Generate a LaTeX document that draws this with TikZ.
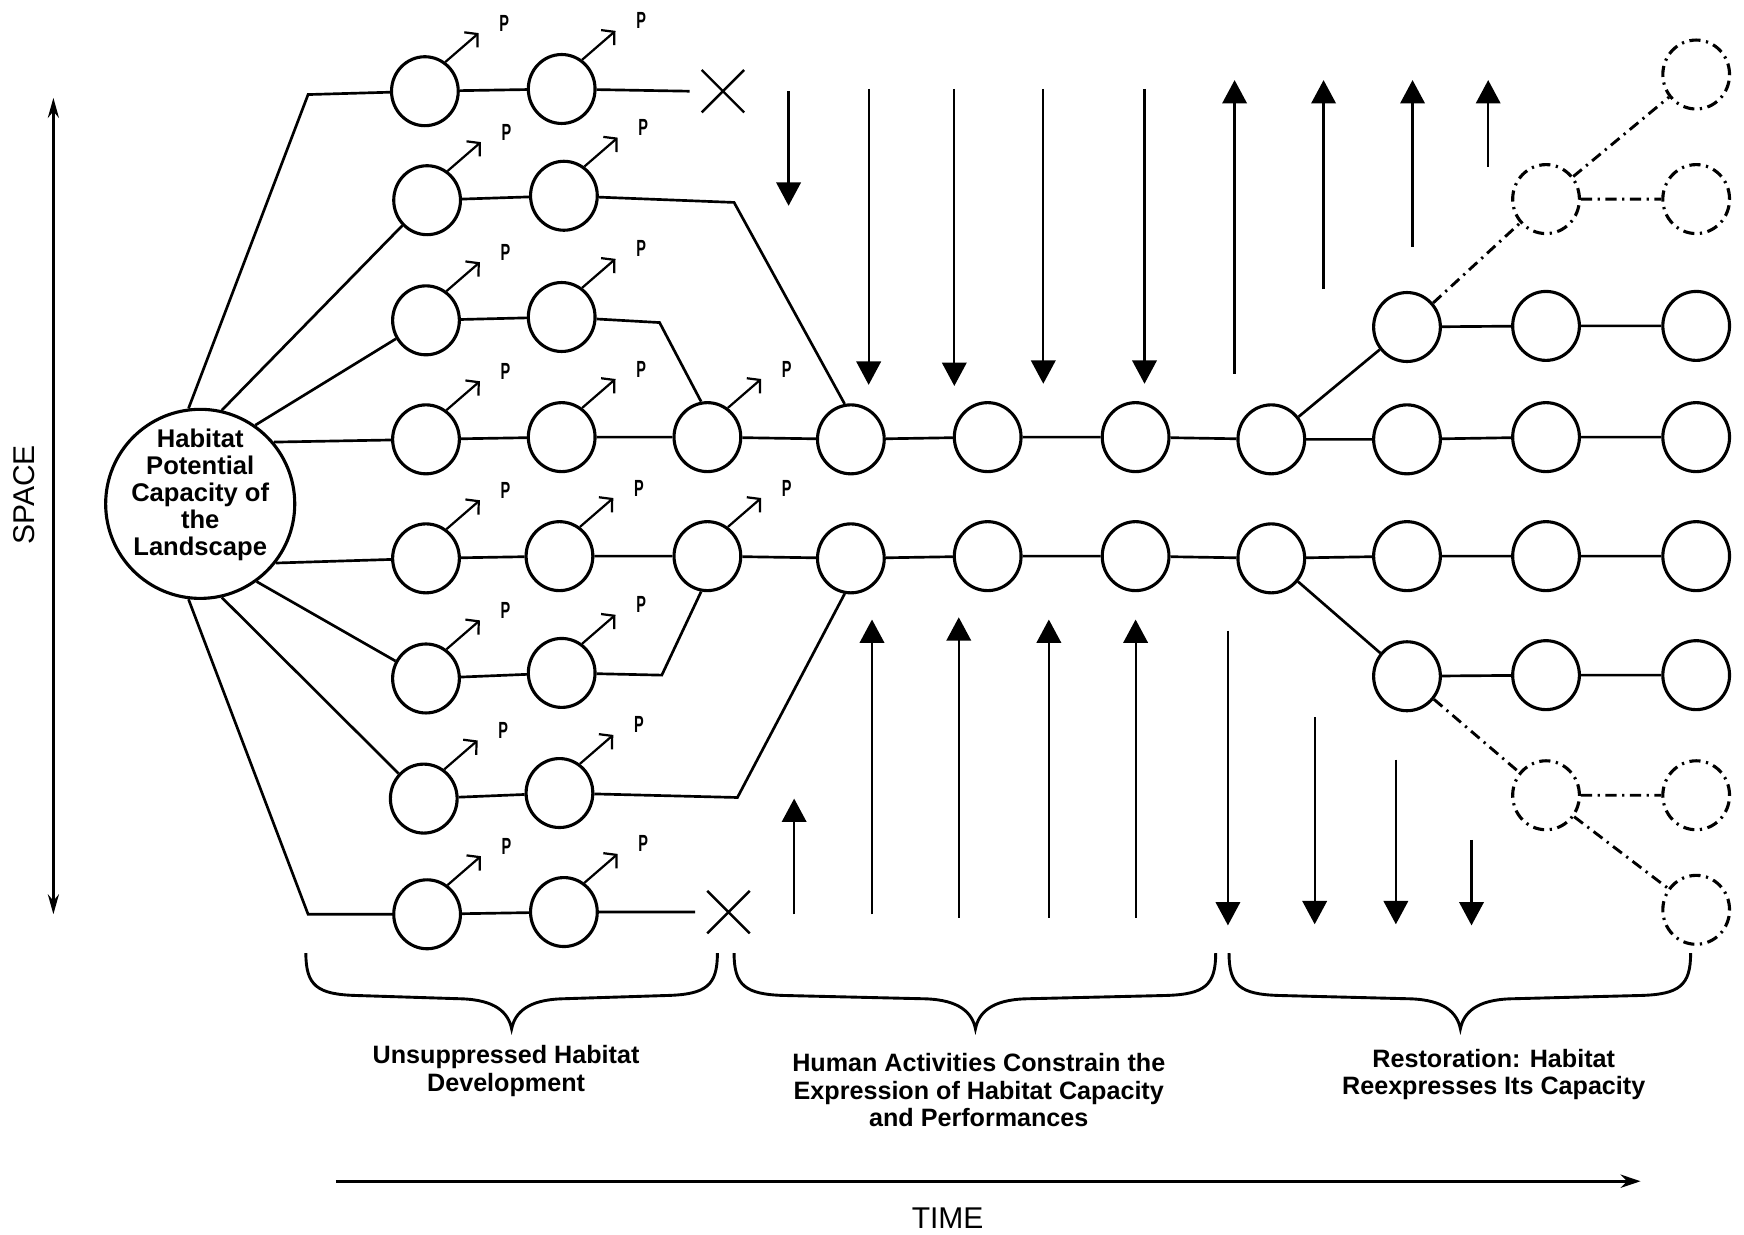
\documentclass[tikz,border=0pt]{standalone}
\usepackage{fontspec}
\setmainfont{Liberation Sans}
\usetikzlibrary{arrows.meta,shapes.geometric,shapes.misc}
\begin{document}
\begin{tikzpicture}[x=0.5pt,y=-0.5pt,
  sc/.style={ellipse,draw,line width=1.4pt,minimum width=30pt,minimum height=31pt,inner sep=0pt},
  dsc/.style={sc,dash pattern=on 5pt off 2.5pt on 1pt off 2.5pt},
  ln/.style={line width=1.2pt},
  dln/.style={line width=1.3pt,dash pattern=on 5pt off 2.5pt on 1pt off 2.5pt},
  varr/.style={line width=1pt,-{Triangle[length=10.5pt,width=11pt]}},
  parr/.style={line width=1pt,-{Straight Barb[length=4pt,width=9pt]}},
  plab/.style={font=\bfseries\fontsize{10.5}{10.5}\selectfont,xshift=11.5pt,yshift=4.5pt,inner sep=0pt},
  captxt/.style={font=\bfseries\fontsize{11.3}{12.5}\selectfont,align=center},
  xmark/.style={draw,cross out,minimum size=18pt,inner sep=0pt,line width=1.1pt},
  bracestyle/.style={line width=1.3pt},
]
\useasboundingbox (0,0) rectangle (1568,1110);

% big circle
\node[circle,draw,line width=1.4pt,minimum size=85pt,inner sep=0pt] (B) at (180,453) {};
\node[font=\bfseries\fontsize{11.5}{12.1}\selectfont,align=center] (Btext) at (180,445)
  {Habitat\\Potential\\Capacity of\\the\\Landscape};

% small circles
\node[sc] (c11) at (382,82) {};  \node[sc] (c12) at (505,80) {};
\node[sc] (c21) at (384,180) {}; \node[sc] (c22) at (507,176) {};
\node[sc] (c31) at (383,288) {}; \node[sc] (c32) at (505,285) {};
\node[sc] (c41) at (383,395) {}; \node[sc] (c42) at (505,393) {};
\node[sc] (c43) at (636,393) {}; \node[sc] (c44) at (765,395) {};
\node[sc] (c45) at (888,393) {}; \node[sc] (c46) at (1021,393) {};
\node[sc] (c47) at (1143,395) {}; \node[sc] (c48) at (1265,395) {};
\node[sc] (c49) at (1390,393) {}; \node[sc] (c410) at (1525,393) {};
\node[sc] (u1) at (1265,294) {}; \node[sc] (u2) at (1390,293) {}; \node[sc] (u3) at (1525,293) {};
\node[sc] (c51) at (383,502) {}; \node[sc] (c52) at (503,500) {};
\node[sc] (c53) at (636,500) {}; \node[sc] (c54) at (765,502) {};
\node[sc] (c55) at (888,500) {}; \node[sc] (c56) at (1021,500) {};
\node[sc] (c57) at (1143,502) {}; \node[sc] (c58) at (1265,500) {};
\node[sc] (c59) at (1390,500) {}; \node[sc] (c510) at (1525,500) {};
\node[sc] (l1) at (1265,608) {}; \node[sc] (l2) at (1390,607) {}; \node[sc] (l3) at (1525,607) {};
\node[sc] (c61) at (383,610) {}; \node[sc] (c62) at (505,605) {};
\node[sc] (c71) at (381,718) {}; \node[sc] (c72) at (503,713) {};
\node[sc] (c81) at (384,822) {}; \node[sc] (c82) at (507,820) {};

% dashed circles
\node[dsc] (d1) at (1525,67) {};
\node[dsc] (d2) at (1390,179) {};
\node[dsc] (d3) at (1525,179) {};
\node[dsc] (d4) at (1390,715) {};
\node[dsc] (d5) at (1525,715) {};
\node[dsc] (d6) at (1525,818) {};

% X marks
\node[xmark] (x1) at (650,82) {};
\node[xmark] (x8) at (655,820) {};

% bend coordinates
\coordinate (k1) at (277,85);
\coordinate (e1) at (620,82);
\coordinate (k2) at (660,182);
\coordinate (k3) at (593,290);
\coordinate (k6) at (595,607);
\coordinate (k7) at (663,717);
\coordinate (k8) at (277,822);
\coordinate (e8) at (625,820);

% connections
\draw[ln] (B.97) -- (k1) -- (c11) -- (c12) -- (e1);
\draw[ln] (B.77) -- (c21) -- (c22) -- (k2) -- (c44.100);
\draw[ln] (B.55) -- (c31) -- (c32) -- (k3) -- (c43.100);
\draw[ln] (B.40) -- (c41) -- (c42) -- (c43) -- (c44) -- (c45) -- (c46) -- (c47) -- (c48) -- (c49) -- (c410);
\draw[ln] (B.-38) -- (c51) -- (c52) -- (c53) -- (c54) -- (c55) -- (c56) -- (c57) -- (c58) -- (c59) -- (c510);
\draw[ln] (B.-54) -- (c61) -- (c62) -- (k6) -- (c53.-100);
\draw[ln] (B.-77) -- (c71) -- (c72) -- (k7) -- (c54.-100);
\draw[ln] (B.-97) -- (k8) -- (c81) -- (c82) -- (e8);
\draw[ln] (c47) -- (u1) -- (u2) -- (u3);
\draw[ln] (c57) -- (l1) -- (l2) -- (l3);
\draw[dln] (u1) -- (d2) -- (d3);
\draw[dln] (d2) -- (d1);
\draw[dln] (l1) -- (d4) -- (d5);
\draw[dln] (d4) -- (d6);

% P arrows
\foreach \n in {c11,c12,c21,c22,c31,c32,c41,c42,c43,c51,c52,c53,c61,c62,c71,c72,c81,c82}
  \draw[parr] (\n.55) -- ++(30,-26) node[plab] {\scalebox{0.62}[1]{P}};

% vertical arrows, top, pointing down
\draw[varr] (709,82) -- (709,185);
\draw[varr] (781,80) -- (781,346);
\draw[varr] (858,80) -- (858,347);
\draw[varr] (938,80) -- (938,345);
\draw[varr] (1029,80) -- (1029,345);
% top, pointing up
\draw[varr] (1110,336) -- (1110,72);
\draw[varr] (1190,260) -- (1190,72);
\draw[varr] (1270,222) -- (1270,72);
\draw[varr] (1338,150) -- (1338,72);
% bottom, pointing up
\draw[varr] (714,822) -- (714,718);
\draw[varr] (784,822) -- (784,557);
\draw[varr] (862,825) -- (862,555);
\draw[varr] (943,825) -- (943,557);
\draw[varr] (1021,825) -- (1021,557);
% bottom, pointing down
\draw[varr] (1104,567) -- (1104,832);
\draw[varr] (1182,645) -- (1182,831);
\draw[varr] (1255,683) -- (1255,831);
\draw[varr] (1323,755) -- (1323,832);

% braces
\foreach \a/\m/\b in {275/460/645, 660/877/1093, 1105/1313/1520} {
  \draw[bracestyle] (\a,857) .. controls (\a,886) and (\a+10,894) .. (\a+45,895)
    -- (\m-45,898) .. controls (\m-15,899) and (\m-3,910) .. (\m,925)
    .. controls (\m+3,910) and (\m+15,899) .. (\m+45,898)
    -- (\b-45,895) .. controls (\b-10,894) and (\b,886) .. (\b,857);
}

% captions
\node[captxt] (cap1) at (455,963) {Unsuppressed Habitat\\Development};
\node[captxt] (cap2) at (880,980) {Human Activities Constrain the\\Expression of Habitat Capacity\\and Performances};
\node[captxt] (cap3) at (1343,966) {Restoration: Habitat\\Reexpresses Its Capacity};

% axes
\coordinate (sp1) at (48,88);
\coordinate (sp2) at (48,822);
\draw[line width=1.1pt,{Stealth[length=9pt,width=5pt]}-{Stealth[length=9pt,width=5pt]}] (sp1) -- (sp2);
\node[rotate=90,font=\fontsize{13.5}{14}\selectfont] (space) at (22,445) {SPACE};
\coordinate (t1) at (302,1062);
\coordinate (t2) at (1475,1062);
\draw[line width=1.3pt,-{Stealth[length=9pt,width=6pt]}] (t1) -- (t2);
\node[font=\fontsize{13.5}{14}\selectfont] (time) at (852,1095) {TIME};
\end{tikzpicture}
\end{document}
